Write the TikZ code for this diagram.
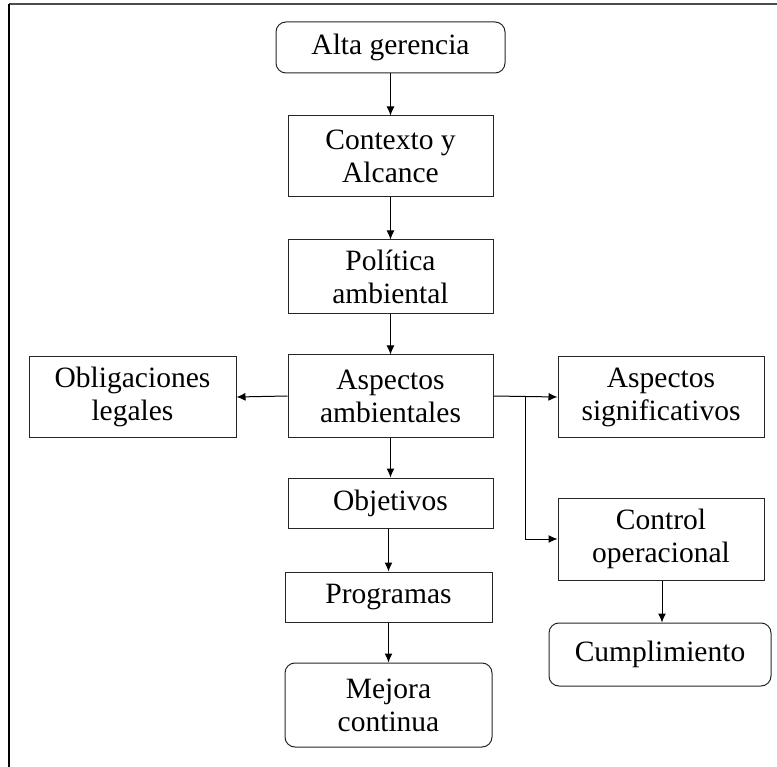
\documentclass[tikz,border=0pt]{standalone}
\usepackage{fontspec}
\setmainfont{Liberation Serif}
\usetikzlibrary{arrows.meta}
\begin{document}
\begin{tikzpicture}[x=1pt,y=-1pt,
  box/.style={draw=black!85,line width=1pt,rectangle,align=center,
    inner sep=0pt,font=\fontsize{29.5}{33}\selectfont},
  roundbox/.style={box,rounded corners=10pt},
  link/.style={line width=1pt,-{Latex[length=9pt,width=8pt]}}]
\useasboundingbox (0,0) rectangle (777,767);
% page frame, cut by the right and bottom edges
\draw[line width=1.5pt,black!70] (9,4) -- (777,4);
\draw[line width=2.2pt,black] (9,4) -- (9,767);

% main column
\node[roundbox,minimum width=229pt,minimum height=51pt] (alta) at (390.5,47.5) {Alta gerencia};
\node[box,minimum width=205pt,minimum height=81pt] (contexto) at (390.5,156.5) {Contexto y\\Alcance};
\node[box,minimum width=205pt,minimum height=74pt] (politica) at (390.5,277) {Política\\ambiental};
\node[box,minimum width=205pt,minimum height=82pt] (aspectos) at (390.5,396) {Aspectos\\ambientales};
\node[box,minimum width=205pt,minimum height=50pt] (objetivos) at (390.5,503) {Objetivos};
\node[box,minimum width=207pt,minimum height=50pt] (programas) at (388.5,597) {Programas};
\node[roundbox,minimum width=207pt,minimum height=84pt] (mejora) at (388.5,705) {Mejora\\continua};

% side boxes
\node[box,minimum width=207pt,minimum height=80pt] (obligaciones) at (132.5,397) {Obligaciones\\legales};
\node[box,minimum width=206pt,minimum height=80pt] (signif) at (661,397) {Aspectos\\significativos};
\node[box,minimum width=206pt,minimum height=82pt] (control) at (661,539) {Control\\operacional};
\node[roundbox,minimum width=222pt,minimum height=63pt] (cumpl) at (660,654.5) {Cumplimiento};

% connectors
\draw[link] (alta) -- (contexto);
\draw[link] (contexto) -- (politica);
\draw[link] (politica) -- (aspectos);
\draw[link] (aspectos) -- (objetivos);
\draw[link] (objetivos.south -| programas) -- (programas);
\draw[link] (programas) -- (mejora);
\draw[link] (aspectos.west) -- (obligaciones.east);
\draw[link] (aspectos.east) -- (signif.west);
\coordinate (branch) at (525,396);
\draw[link] (branch) |- (control.west);
\draw[link] (control.south -| 662,0) -- (cumpl.north -| 662,0);
\end{tikzpicture}
\end{document}
